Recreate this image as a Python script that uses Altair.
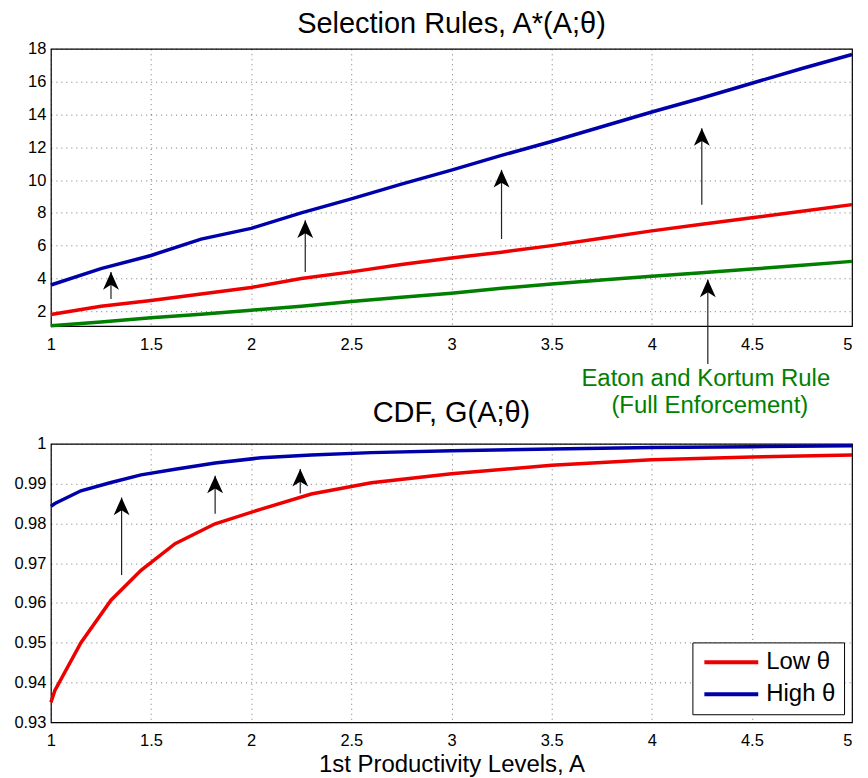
import altair as alt
import pandas as pd

FONT = "Liberation Sans"

# ---------------- Top panel: Selection rules A*(A;theta) ----------------
A_top = [1.0, 1.25, 1.5, 1.75, 2.0, 2.25, 2.5, 2.75, 3.0, 3.25, 3.5, 3.75, 4.0, 4.25, 4.5, 4.75, 5.0]
sel_high = [3.6, 4.6, 5.4, 6.4, 7.05, 8.0, 8.85, 9.75, 10.6, 11.5, 12.35, 13.25, 14.15, 15.0, 15.9, 16.8, 17.65]
sel_low = [1.8, 2.3, 2.65, 3.05, 3.45, 4.0, 4.4, 4.85, 5.25, 5.6, 6.0, 6.45, 6.9, 7.3, 7.7, 8.1, 8.5]
sel_ek = [1.12, 1.35, 1.6, 1.82, 2.06, 2.3, 2.6, 2.85, 3.1, 3.4, 3.66, 3.9, 4.13, 4.35, 4.57, 4.8, 5.04]

# ---------------- Bottom panel: CDF G(A;theta) ----------------
A_cdf = [1.0, 1.02, 1.15, 1.3, 1.45, 1.62, 1.82, 2.05, 2.3, 2.6, 3.0, 3.5, 4.0, 4.5, 5.0]
cdf_low = [0.935, 0.938, 0.950, 0.9607, 0.9682, 0.9749, 0.9799, 0.9836, 0.9874, 0.9902,
           0.9925, 0.9946, 0.996, 0.9967, 0.9972]
cdf_high = [0.9843, 0.9850, 0.9882, 0.9903, 0.9922, 0.9936, 0.9952, 0.9965, 0.9972, 0.9978,
            0.9983, 0.9987, 0.9991, 0.9993, 0.9995]

# ---------------- Arrows (annotations) ----------------
arr_top_A = [1.30, 2.27, 3.25, 4.25, 4.28]
arr_top_from = [2.75, 4.39, 6.4, 8.49, -1.21]
arr_top_to = [4.39, 7.54, 10.62, 13.16, 3.93]

arr_bot_A = [1.353, 1.82, 2.245]
arr_bot_from = [0.967, 0.9824, 0.9875]
arr_bot_to = [0.9865, 0.992, 0.9937]

ek_text = ["Eaton and Kortum Rule", "(Full Enforcement)"]
ek_text_A = [4.27, 4.29]
ek_text_v = [-2.14, -3.78]

x_ticks = [1, 1.5, 2, 2.5, 3, 3.5, 4, 4.5, 5]
y_top_ticks = [2, 4, 6, 8, 10, 12, 14, 16, 18]
y_bot_ticks = [0.93, 0.94, 0.95, 0.96, 0.97, 0.98, 0.99, 1.0]

series_names = ["Low θ", "High θ", "EK"]
series_colors = ["#ee0000", "#0000aa", "#007f00"]

HEAD = "M0,0L0.9,2L0,1.45L-0.9,2Z"
PW = 803

n = len(A_top)
top_df = pd.DataFrame({
    "A": A_top * 3,
    "v": sel_low + sel_high + sel_ek,
    "s": ["Low θ"] * n + ["High θ"] * n + ["EK"] * n,
})
m = len(A_cdf)
bot_df = pd.DataFrame({
    "A": A_cdf * 2,
    "v": cdf_low + cdf_high,
    "s": ["Low θ"] * m + ["High θ"] * m,
})
arr_top = pd.DataFrame({"A": arr_top_A, "v0": arr_top_from, "v1": arr_top_to})
arr_bot = pd.DataFrame({"A": arr_bot_A, "v0": arr_bot_from, "v1": arr_bot_to})
txt_df = pd.DataFrame({"A": ek_text_A, "v": ek_text_v, "t": ek_text})

x_align = {"condition": {"test": "datum.value >= 5", "value": "right"}, "value": "center"}
x_scale = alt.Scale(domain=[1, 5], nice=False, zero=False)
yt_scale = alt.Scale(domain=[1.09, 18], nice=False, zero=False)
yb_scale = alt.Scale(domain=[0.93, 1.0], nice=False, zero=False)

ax_x_top = alt.Axis(values=x_ticks, format="~g", title=None, labelPadding=10,
                    labelAlign=x_align, labelOverlap=False)
ax_y_top = alt.Axis(values=y_top_ticks, format="~g", title=None, labelPadding=5,
                    labelOverlap=False, labelSeparation=0, minExtent=37, maxExtent=37)
ax_x_bot = alt.Axis(values=x_ticks, format="~g", title="1st Productivity Levels, A",
                    labelPadding=10, titlePadding=4, labelAlign=x_align, labelOverlap=False)
ax_y_bot = alt.Axis(values=y_bot_ticks, format="~g", title=None, labelPadding=5,
                    labelOverlap=False, labelSeparation=0, minExtent=37, maxExtent=37)

# ---- top panel layers
top_lines = alt.Chart(top_df).mark_line(strokeWidth=3.5).encode(
    x=alt.X("A:Q", scale=x_scale, axis=ax_x_top),
    y=alt.Y("v:Q", scale=yt_scale, axis=ax_y_top),
    color=alt.Color("s:N", scale=alt.Scale(domain=series_names, range=series_colors), legend=None),
    order="A:Q",
)
top_shaft = alt.Chart(arr_top).mark_rule(color="#222", strokeWidth=1.2).encode(
    x=alt.X("A:Q", scale=x_scale, axis=ax_x_top),
    y=alt.Y("v0:Q", scale=yt_scale, axis=ax_y_top), y2="v1:Q")
top_head = alt.Chart(arr_top).mark_point(shape=HEAD, size=313, filled=True, color="black",
                                          opacity=1, strokeWidth=0).encode(
    x=alt.X("A:Q", scale=x_scale, axis=ax_x_top),
    y=alt.Y("v1:Q", scale=yt_scale, axis=ax_y_top))
top_text = alt.Chart(txt_df).mark_text(font=FONT, fontSize=24, color="#008000",
                                       baseline="middle", align="center").encode(
    x=alt.X("A:Q", scale=x_scale, axis=ax_x_top),
    y=alt.Y("v:Q", scale=yt_scale, axis=ax_y_top), text="t:N")

top = alt.layer(top_lines, top_shaft, top_head, top_text).properties(
    width=PW, height=278,
    title=alt.TitleParams("Selection Rules, A*(A;θ)", offset=2),
)

# ---- bottom panel layers
bot_lines = alt.Chart(bot_df).mark_line(strokeWidth=3.5).encode(
    x=alt.X("A:Q", scale=x_scale, axis=ax_x_bot),
    y=alt.Y("v:Q", scale=yb_scale, axis=ax_y_bot),
    color=alt.Color("s:N", scale=alt.Scale(domain=series_names[:2], range=series_colors[:2]),
                    legend=alt.Legend(orient="bottom-right", title=None,
                                      symbolType="M-2.7,0H2.7", symbolSize=400,
                                      symbolStrokeWidth=4, symbolOffset=19, labelOffset=23,
                                      labelFont=FONT, labelFontSize=24, labelColor="black",
                                      strokeColor="black", fillColor="white", padding=8,
                                      offset=8, rowPadding=8)),
    order="A:Q",
)
bot_shaft = alt.Chart(arr_bot).mark_rule(color="#222", strokeWidth=1.2).encode(
    x=alt.X("A:Q", scale=x_scale, axis=ax_x_bot),
    y=alt.Y("v0:Q", scale=yb_scale, axis=ax_y_bot), y2="v1:Q")
bot_head = alt.Chart(arr_bot).mark_point(shape=HEAD, size=313, filled=True, color="black",
                                          opacity=1, strokeWidth=0).encode(
    x=alt.X("A:Q", scale=x_scale, axis=ax_x_bot),
    y=alt.Y("v1:Q", scale=yb_scale, axis=ax_y_bot))

bottom = alt.layer(bot_lines, bot_shaft, bot_head).properties(
    width=PW, height=279,
    title=alt.TitleParams("CDF, G(A;θ)", offset=8),
)

chart = alt.vconcat(top, bottom, spacing=118, bounds="flush").resolve_scale(
    color="independent"
).properties(
    padding={"top": 0, "left": 5, "right": 0, "bottom": 0}
).configure_axis(
    labelFont=FONT, labelFontSize=16.5, labelColor="black", labelOverlap=False,
    titleFont=FONT, titleFontSize=24, titleColor="black", titleFontWeight="normal",
    grid=True, gridColor="black", gridDash=[1, 4], gridOpacity=0.55, gridWidth=1,
    domain=False, ticks=False, labelFlush=False,
).configure_view(
    stroke="black", strokeWidth=1.2
).configure_title(
    font=FONT, fontSize=29, fontWeight="normal", color="black", anchor="middle"
)

chart.save("out.html", embed_options={"renderer": "svg", "actions": False})
